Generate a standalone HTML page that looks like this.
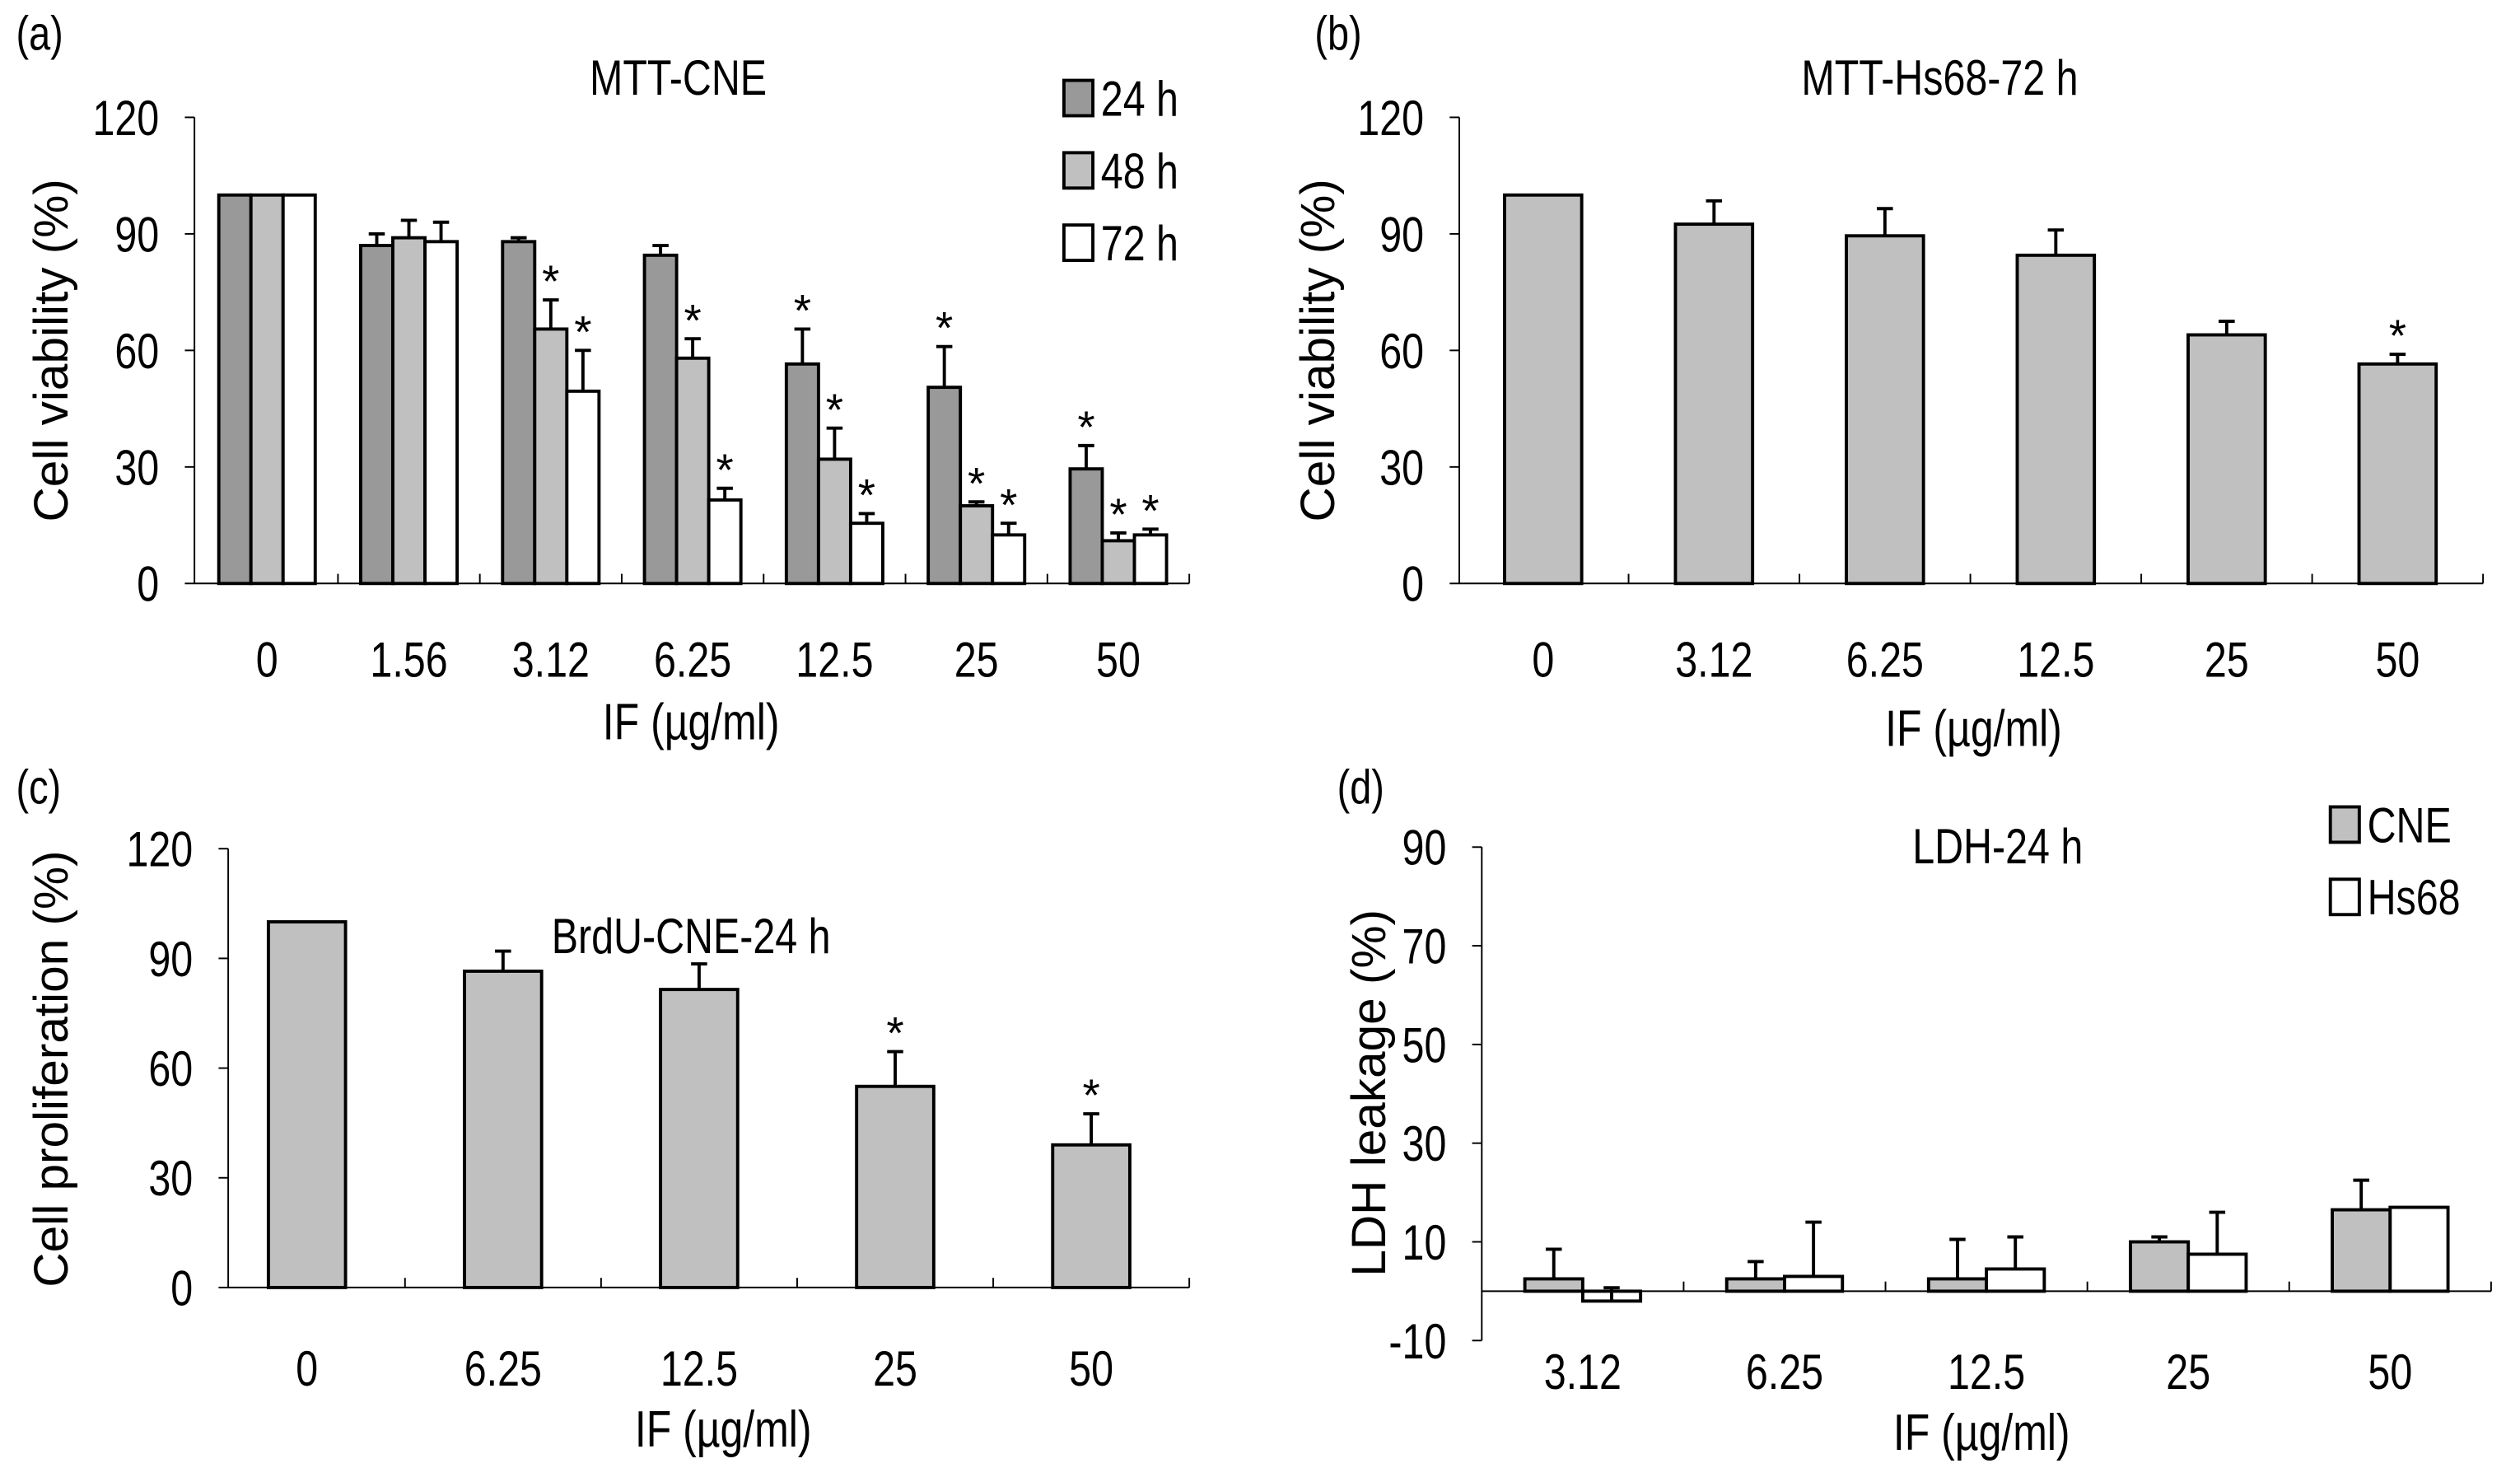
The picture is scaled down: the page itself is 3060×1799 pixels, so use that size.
<!DOCTYPE html>
<html><head><meta charset="utf-8"><style>
html,body{margin:0;padding:0;background:#fff;}
svg{display:block;}
text{font-family:"Liberation Sans",Arial,sans-serif;fill:#000;}
</style></head>
<body>
<svg id="fig" width="3060" height="1799" viewBox="0 0 1568 922" preserveAspectRatio="none" xmlns="http://www.w3.org/2000/svg"></svg>
<script>
// Panel (a)
const aCats = ["0","1.56","3.12","6.25","12.5","25","50"];
const a24 = [100,87,88,84.5,56.5,50.5,29.5];
const a24Err = [0,3,1,2.5,9,10.5,6];
const a48 = [100,89,65.5,58,32,20,11];
const a48Err = [0,4.5,7.5,5,8,1,2];
const a72 = [100,88,49.5,21.5,15.5,12.5,12.5];
const a72Err = [0,5,10.5,3,2.5,3,1.5];
const a24Star = [0,0,0,0,1,1,1];
const a48Star = [0,0,1,1,1,1,1];
const a72Star = [0,0,1,1,1,1,1];
const aTicks = [0,30,60,90,120];
// Panel (b)
const bCats = ["0","3.12","6.25","12.5","25","50"];
const bVals = [100,92.5,89.5,84.5,64,56.5];
const bErr = [0,6,7,6.5,3.5,2.5];
const bStar = [0,0,0,0,0,1];
// Panel (c)
const cCats = ["0","6.25","12.5","25","50"];
const cVals = [100,86.5,81.5,55,39];
const cErr = [0,5.5,7,9.5,8.5];
const cStar = [0,0,0,1,1];
// Panel (d)
const dCats = ["3.12","6.25","12.5","25","50"];
const dCNE = [2.5,2.5,2.5,10,16.5];
const dCNEErr = [6,3.5,8,1,6];
const dHs = [-2,3,4.5,7.5,17];
const dHsErr = [2.7,11,6.5,8.5,0];
const dTicks = [-10,10,30,50,70,90];

const NS="http://www.w3.org/2000/svg";
const svg=document.getElementById('fig');
const SX=0.8;
function el(tag,attrs,parent){const e=document.createElementNS(NS,tag);for(const k in attrs)e.setAttribute(k,attrs[k]);(parent||svg).appendChild(e);return e;}
// condensed text
function txt(s,x,y,size,anchor,parent){const t=el('text',{x:x/SX,y:y,'font-size':size,'text-anchor':anchor||'middle',transform:'scale('+SX+',1)'},parent);t.textContent=s;return t;}
function rtxt(s,x,y,size,parent){const t=el('text',{x:0,y:0,'font-size':size,'text-anchor':'middle',transform:'translate('+x+','+y+') rotate(-90)'},parent);t.textContent=s;return t;}

function panel(cfg){
  const g=el('g',{});
  
  
  const yScale=v=>cfg.y0-(v-cfg.vmin)*(cfg.y0-cfg.ytop)/(cfg.vmax-cfg.vmin);
  const zeroY=yScale(0);
  const ya=el('line',{x1:cfg.x0,y1:cfg.ytop,x2:cfg.x0,y2:cfg.y0,stroke:'#000','stroke-width':1},g);
  
  cfg.ticks.forEach(t=>{
    const y=yScale(t);
    el('line',{x1:cfg.x0-6,y1:y,x2:cfg.x0,y2:y,stroke:'#000','stroke-width':1},g);
    const tl=txt(String(t),cfg.x0-22,y+11,31,'end',g);
    
  });
  const xa=el('line',{x1:cfg.x0,y1:zeroY,x2:cfg.x1,y2:zeroY,stroke:'#000','stroke-width':1},g);
  
  const n=cfg.cats.length, gx=cfg.gx0, gw=(cfg.x1-gx)/n;
  for(let i=1;i<=n;i++){const x=gx+i*gw;el('line',{x1:x,y1:zeroY,x2:x,y2:zeroY-6,stroke:'#000','stroke-width':1},g);}
  cfg.cats.forEach((c,i)=>{
    const cx=gx+(i+0.5)*gw;
    const tl=txt(c,cx,cfg.labelY,31,'middle',g);
    
    const ns=cfg.series.length, tw=ns*cfg.bw;
    cfg.series.forEach((s,j)=>{
      const v=s.vals[i], bx=cx-tw/2+j*cfg.bw;
      const yv=yScale(v);
      const r=el('rect',{x:bx,y:Math.min(yv,zeroY),width:cfg.bw,height:Math.abs(zeroY-yv),fill:s.fill,stroke:'#000','stroke-width':2},g);
      
      const e=s.err[i];
      let top=yv;
      if(e>0){
        const ye=yScale(v+e); const mx=bx+cfg.bw/2;
        el('line',{x1:mx,y1:yv,x2:mx,y2:ye,stroke:'#000','stroke-width':2},g);
        el('line',{x1:mx-5,y1:ye,x2:mx+5,y2:ye,stroke:'#000','stroke-width':2},g);
        top=Math.min(yv,ye);
      }
      if(s.star&&s.star[i]){
        const st=el('text',{x:bx+cfg.bw/2,y:top-2,'font-size':28,'text-anchor':'middle'},g);
        st.textContent='*';
        
      }
    });
  });
  const ti=txt(cfg.title,cfg.titleX,cfg.titleY,31,'middle',g);
  
  const pl=txt(cfg.letter,cfg.letterX,cfg.letterY,30,'start',g);
  
  const xt=txt('IF (µg/ml)',cfg.xtX,cfg.xtY,32,'middle',g);
  
  const yt=rtxt(cfg.ytitle,cfg.ytX,cfg.ytY,30,g);
  
  (cfg.legend||[]).forEach(L=>{
    const lg=el('g',{},g);
    
    el('rect',{x:L.x,y:L.y,width:18,height:22,fill:L.fill,stroke:'#000','stroke-width':2},lg);
    txt(L.label,L.x+23,L.y+22,31,'start',lg);
  });
}

panel({name:'panel-a-mtt-cne',x0:121,gx0:122,x1:740,y0:363,ytop:73,vmin:0,vmax:120,ticks:aTicks,cats:aCats,bw:20,labelY:421,
  series:[{key:'24h',vals:a24,err:a24Err,star:a24Star,fill:'#999999'},{key:'48h',vals:a48,err:a48Err,star:a48Star,fill:'#c0c0c0'},{key:'72h',vals:a72,err:a72Err,star:a72Star,fill:'#ffffff'}],
  title:'MTT-CNE',titleX:422,titleY:59,letter:'(a)',letterX:10,letterY:31,xtX:430,xtY:460,ytitle:'Cell viability (%)',ytX:42,ytY:218,
  legend:[{x:662,y:50,fill:'#999999',label:'24 h'},{x:662,y:95,fill:'#c0c0c0',label:'48 h'},{x:662,y:140,fill:'#ffffff',label:'72 h'}]});

panel({name:'panel-b-mtt-hs68',x0:908,gx0:907,x1:1545,y0:363,ytop:73,vmin:0,vmax:120,ticks:aTicks,cats:bCats,bw:48,labelY:421,
  series:[{key:'hs68',vals:bVals,err:bErr,star:bStar,fill:'#c0c0c0'}],
  title:'MTT-Hs68-72 h',titleX:1207,titleY:59,letter:'(b)',letterX:818,letterY:31,xtX:1228,xtY:464,ytitle:'Cell viability (%)',ytX:830,ytY:218});

panel({name:'panel-c-brdu-cne',x0:142,gx0:130,x1:740,y0:801,ytop:528,vmin:0,vmax:120,ticks:aTicks,cats:cCats,bw:48,labelY:862,
  series:[{key:'cne',vals:cVals,err:cErr,star:cStar,fill:'#c0c0c0'}],
  title:'BrdU-CNE-24 h',titleX:430,titleY:593,letter:'(c)',letterX:10,letterY:500,xtX:450,xtY:900,ytitle:'Cell proliferation (%)',ytX:42,ytY:665});

panel({name:'panel-d-ldh',x0:922,gx0:922,x1:1550,y0:834,ytop:527,vmin:-10,vmax:90,ticks:dTicks,cats:dCats,bw:36,labelY:864,
  series:[{key:'cne',vals:dCNE,err:dCNEErr,fill:'#c0c0c0'},{key:'hs68',vals:dHs,err:dHsErr,fill:'#ffffff'}],
  title:'LDH-24 h',titleX:1243,titleY:537,letter:'(d)',letterX:832,letterY:500,xtX:1233,xtY:902,ytitle:'LDH leakage (%)',ytX:862,ytY:680,
  legend:[{x:1450,y:502,fill:'#c0c0c0',label:'CNE'},{x:1450,y:547,fill:'#ffffff',label:'Hs68'}]});
</script>
</body></html>
